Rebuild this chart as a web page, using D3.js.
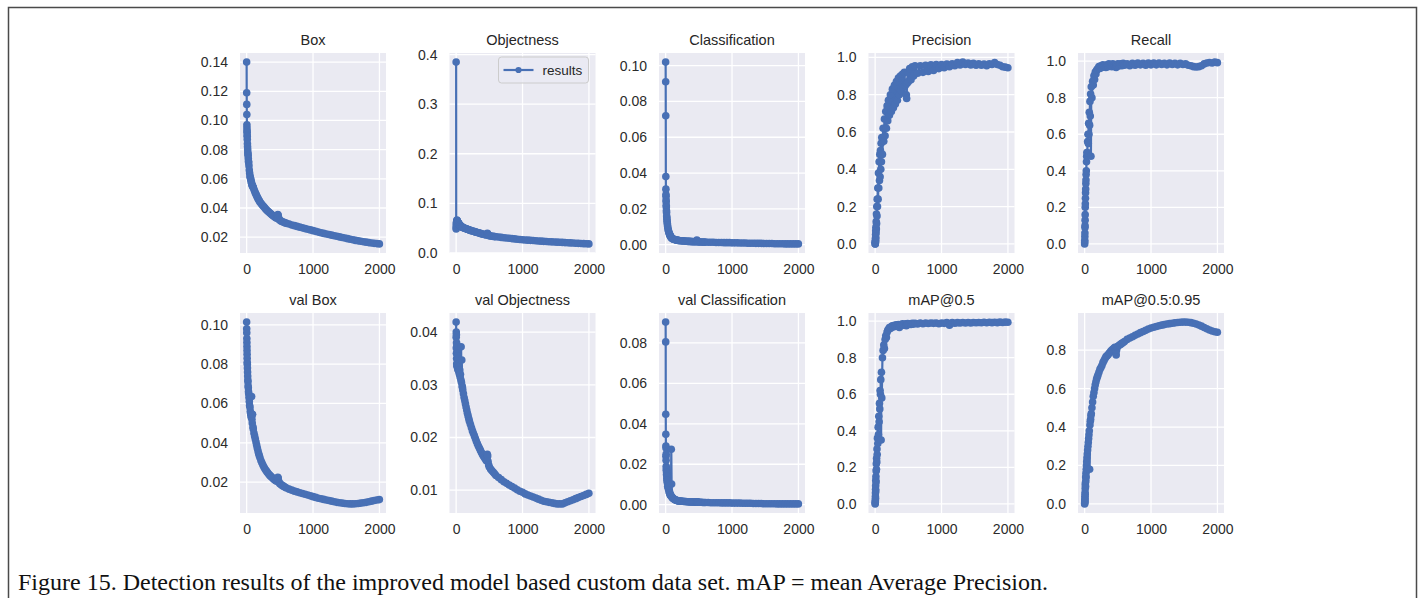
<!DOCTYPE html>
<html>
<head>
<meta charset="utf-8">
<script src="https://cdn.jsdelivr.net/npm/d3@7"></script>
<style>
  html, body { margin: 0; padding: 0; background: #ffffff; }
  svg { display: block; }
  .tick text { font-family: "Liberation Sans", Arial, Helvetica, sans-serif; font-size: 14px; fill: #2b2b2b; }
  .title { font-family: "Liberation Sans", Arial, Helvetica, sans-serif; font-size: 14.5px; fill: #262626; }
  .legend-text { font-family: "Liberation Sans", Arial, Helvetica, sans-serif; font-size: 13.5px; fill: #262626; }
  .caption { font-family: "Liberation Serif", "Times New Roman", Times, serif; font-size: 24px; fill: #111111; }
</style>
</head>
<body>
<svg id="fig" width="1423" height="598"></svg>
<script>
// Training epochs at which the logged results are plotted
const epochs = [
  0,1,2,3,4,5,6,7,8,9,10,
  12,14,16,18,20,22,
  25,28,31,35,
  40,45,50,55,60,65,70,75,80,85,90,95,100,
  110,120,130,140,150,160,170,180,190,200,
  215,230,245,260,275,290,305,320,335,350,365,380,395,410,425,440,455,
  465,470,475,480,490,500,
  520,540,560,580,600,
  640,680,720,760,800,840,880,920,960,1000,1040,1080,1120,1160,1200,1240,1280,1320,1360,1400,
  1440,1480,1520,1560,1600,1640,1680,1720,1760,1800,1840,1880,1920,1960,
  1999
];

// Training losses
const boxLoss = [
  0.140,0.119,0.111,0.104,0.097,0.095,0.093,0.092,0.090,0.089,0.087,
  0.084,0.082,0.080,0.078,0.077,0.076,
  0.074,0.072,0.071,0.069,
  0.066,0.064,0.062,0.061,0.060,0.059,0.058,0.057,0.056,0.0555,0.055,0.0545,0.054,
  0.0528,0.0516,0.0505,0.0495,0.0485,0.0475,0.0466,0.0458,0.045,0.0442,
  0.0432,0.0424,0.0416,0.0408,0.040,0.0392,0.0385,0.0378,0.0372,0.0366,0.036,0.0354,0.0349,0.0344,0.0339,0.0334,0.033,
  0.0342,0.0356,0.0350,0.0336,0.0322,0.0316,
  0.031,0.0306,0.0302,0.0298,0.0295,
  0.029,0.0284,0.0279,0.0274,0.0269,0.0264,0.0259,0.0254,0.025,0.0245,0.024,0.0235,0.023,0.0226,0.0222,0.0218,0.0214,0.021,0.0206,0.0202,
  0.0198,0.0194,0.019,0.0186,0.0182,0.0178,0.0175,0.0172,0.0169,0.0166,0.0163,0.016,0.0158,0.0156,
  0.0154
];
const objLoss = [
  0.385,0.048,0.050,0.053,0.056,0.058,0.060,0.061,0.062,0.063,0.064,
  0.066,0.065,0.064,0.064,0.063,0.062,
  0.062,0.061,0.060,0.060,
  0.059,0.058,0.057,0.056,0.0555,0.055,0.054,0.0535,0.053,0.0525,0.052,0.0515,0.051,
  0.0505,0.050,0.0495,0.049,0.0485,0.048,0.0475,0.047,0.0465,0.046,
  0.0453,0.0446,0.044,0.0434,0.0428,0.0422,0.0416,0.041,0.0404,0.0398,0.0392,0.0386,0.038,0.0375,0.037,0.0365,0.036,
  0.0372,0.0395,0.0385,0.0365,0.0352,0.0345,
  0.034,0.0336,0.0332,0.0328,0.0325,
  0.0318,0.0311,0.0305,0.0299,0.0293,0.0287,0.0281,0.0275,0.027,0.0265,0.026,0.0256,0.0252,0.0248,0.0244,0.024,0.0236,0.0232,0.0228,0.0225,
  0.0222,0.0219,0.0216,0.0213,0.021,0.0206,0.0203,0.020,0.0197,0.0194,0.0191,0.0188,0.0185,0.0182,
  0.018
];
const clsLoss = [
  0.102,0.091,0.072,0.038,0.031,0.028,0.027,0.025,0.024,0.022,0.021,
  0.019,0.018,0.016,0.015,0.014,0.013,
  0.012,0.011,0.010,0.009,
  0.0082,0.0075,0.0068,0.0062,0.0057,0.0053,0.0049,0.0046,0.0043,0.004,0.0038,0.0036,0.0034,
  0.0032,0.003,0.0029,0.0028,0.0027,0.0026,0.0025,0.0024,0.0024,0.0023,
  0.0022,0.0022,0.0021,0.0021,0.002,0.002,0.0019,0.0019,0.0018,0.0018,0.0018,0.0017,0.0017,0.0017,0.0016,0.0016,0.0016,
  0.0018,0.0026,0.0022,0.0018,0.0016,0.0015,
  0.0015,0.0015,0.0014,0.0014,0.0014,
  0.0013,0.0013,0.0013,0.0012,0.0012,0.0012,0.0011,0.0011,0.0011,0.001,0.001,0.001,0.0009,0.0009,0.0009,0.0008,0.0008,0.0008,0.0007,0.0007,
  0.0007,0.0006,0.0006,0.0006,0.0006,0.0005,0.0005,0.0005,0.0005,0.0004,0.0004,0.0004,0.0004,0.0004,
  0.0004
];

// Detection metrics
const precision = [
  0.0,0.01,0.0,0.015,0.005,0.03,0.01,0.05,0.02,0.07,0.035,
  0.09,0.06,0.12,0.08,0.16,0.11,
  0.20,0.15,0.24,0.20,
  0.30,0.24,0.38,0.30,0.44,0.34,0.48,0.36,0.50,0.40,0.54,0.44,0.57,
  0.48,0.62,0.55,0.67,0.58,0.71,0.62,0.74,0.66,0.77,
  0.69,0.80,0.71,0.83,0.73,0.85,0.75,0.87,0.77,0.89,0.80,0.90,0.82,0.91,0.84,0.92,0.85,
  0.86,0.80,0.78,0.86,0.92,0.87,
  0.94,0.88,0.95,0.90,0.955,
  0.915,0.955,0.92,0.958,0.925,0.96,0.93,0.962,0.94,0.962,0.945,0.965,0.95,0.966,0.955,0.972,0.96,0.975,0.962,0.97,
  0.96,0.968,0.958,0.966,0.958,0.964,0.956,0.966,0.962,0.972,0.962,0.958,0.95,0.948,
  0.945
];
const recall = [
  0.0,0.01,0.02,0.04,0.06,0.09,0.10,0.13,0.16,0.20,0.22,
  0.25,0.28,0.30,0.33,0.35,0.38,
  0.40,0.45,0.48,0.50,
  0.50,0.56,0.60,0.55,0.66,0.60,0.72,0.65,0.78,0.70,0.82,0.48,0.86,
  0.80,0.89,0.87,0.92,0.90,0.94,0.93,0.95,0.955,0.96,
  0.97,0.96,0.975,0.965,0.98,0.97,0.975,0.965,0.98,0.97,0.985,0.972,0.98,0.97,0.985,0.975,0.98,
  0.97,0.975,0.965,0.98,0.972,0.985,
  0.975,0.985,0.975,0.988,0.978,
  0.985,0.975,0.988,0.978,0.99,0.98,0.988,0.978,0.99,0.98,0.99,0.98,0.99,0.982,0.988,0.98,0.99,0.982,0.988,0.98,
  0.988,0.982,0.985,0.978,0.975,0.97,0.968,0.97,0.975,0.985,0.99,0.993,0.99,0.995,
  0.992
];

// Validation losses
const valBoxLoss = [
  0.1014,0.098,0.096,0.093,0.091,0.089,0.087,0.085,0.083,0.081,0.080,
  0.078,0.076,0.074,0.072,0.071,0.069,
  0.068,0.066,0.065,0.063,
  0.061,0.059,0.058,0.056,0.055,0.054,0.053,0.0635,0.052,0.050,0.0545,0.048,0.047,
  0.045,0.0435,0.042,0.0405,0.039,0.0375,0.036,0.0347,0.0335,0.0325,
  0.031,0.0298,0.0287,0.0277,0.0268,0.026,0.0253,0.0246,0.024,0.0234,0.0229,0.0224,0.0219,0.0215,0.0211,0.0207,0.0204,
  0.0215,0.0225,0.022,0.0208,0.0198,0.0192,
  0.0187,0.0182,0.0178,0.0174,0.017,
  0.0164,0.0159,0.0154,0.015,0.0146,0.0142,0.0138,0.0134,0.013,0.0126,0.0122,0.0118,0.0115,0.0112,0.0109,0.0106,0.0103,0.010,0.0097,0.0095,
  0.0093,0.0091,0.009,0.0089,0.0089,0.009,0.0091,0.0093,0.0095,0.0097,0.010,0.0103,0.0106,0.0109,
  0.0111
];
const valObjLoss = [
  0.0419,0.039,0.040,0.037,0.0395,0.036,0.038,0.035,0.037,0.034,0.036,
  0.0335,0.0375,0.034,0.036,0.0335,0.0355,
  0.033,0.035,0.0328,0.034,
  0.0325,0.0335,0.032,0.0328,0.0315,0.032,0.031,0.0372,0.0305,0.0347,0.0298,0.0295,0.029,
  0.0283,0.0276,0.027,0.0264,0.0258,0.0252,0.0246,0.0241,0.0236,0.0231,
  0.0225,0.0219,0.0213,0.0208,0.0203,0.0198,0.0193,0.0188,0.0184,0.018,0.0176,0.0172,0.0168,0.0165,0.0162,0.0159,0.0156,
  0.0162,0.0168,0.0165,0.0155,0.0148,0.0144,
  0.014,0.0137,0.0134,0.0131,0.0128,
  0.0124,0.012,0.0116,0.0113,0.011,0.0107,0.0104,0.0101,0.0098,0.0096,0.0093,0.0091,0.0089,0.0087,0.0085,0.0083,0.0081,0.0079,0.0078,0.0077,
  0.0076,0.0075,0.0074,0.0074,0.0074,0.0076,0.0078,0.008,0.0082,0.0084,0.0086,0.0088,0.009,0.0092,
  0.0094
];
const valClsLoss = [
  0.0903,0.0805,0.0447,0.0348,0.029,0.024,0.028,0.022,0.025,0.019,0.017,
  0.018,0.015,0.016,0.013,0.014,0.012,
  0.011,0.012,0.009,0.010,
  0.008,0.009,0.0065,0.007,0.0055,0.0058,0.0048,0.0046,0.0045,0.0274,0.0102,0.0038,0.0035,
  0.0032,0.0029,0.0027,0.0025,0.0023,0.0022,0.0021,0.002,0.0019,0.0019,
  0.0018,0.0018,0.0017,0.0017,0.0016,0.0016,0.0016,0.0015,0.0015,0.0015,0.0014,0.0014,0.0014,0.0013,0.0013,0.0013,0.0013,
  0.0014,0.0015,0.0014,0.0013,0.0012,0.0012,
  0.0012,0.0012,0.0011,0.0011,0.0011,
  0.0011,0.001,0.001,0.001,0.001,0.0009,0.0009,0.0009,0.0009,0.0008,0.0008,0.0008,0.0008,0.0007,0.0007,0.0007,0.0007,0.0006,0.0006,0.0006,
  0.0006,0.0005,0.0005,0.0005,0.0005,0.0005,0.0004,0.0004,0.0004,0.0004,0.0004,0.0004,0.0004,0.0004,
  0.0004
];
const mAP50 = [
  0.0,0.005,0.02,0.01,0.04,0.06,0.03,0.08,0.10,0.07,0.13,
  0.15,0.12,0.18,0.22,0.19,0.25,
  0.23,0.30,0.27,0.36,
  0.33,0.42,0.38,0.48,0.45,0.55,0.52,0.62,0.60,0.68,0.35,0.72,0.58,
  0.80,0.84,0.87,0.85,0.90,0.92,0.91,0.94,0.95,0.955,
  0.965,0.96,0.97,0.975,0.968,0.978,0.972,0.98,0.975,0.982,0.965,0.98,0.978,0.985,0.978,0.984,0.98,
  0.982,0.975,0.985,0.98,0.987,0.982,
  0.986,0.982,0.988,0.984,0.988,
  0.985,0.99,0.986,0.99,0.987,0.99,0.988,0.99,0.986,0.99,0.988,0.992,0.978,0.992,0.989,0.992,0.99,0.993,0.99,0.993,
  0.99,0.993,0.991,0.993,0.991,0.994,0.991,0.994,0.992,0.994,0.992,0.995,0.993,0.995,
  0.994
];
const mAP5095 = [
  0.0,0.005,0.01,0.02,0.015,0.04,0.03,0.06,0.05,0.08,0.10,
  0.11,0.09,0.14,0.12,0.16,0.14,
  0.18,0.20,0.22,0.24,
  0.26,0.28,0.30,0.32,0.34,0.36,0.38,0.18,0.41,0.43,0.44,0.46,0.47,
  0.50,0.53,0.56,0.58,0.60,0.62,0.635,0.65,0.66,0.67,
  0.685,0.70,0.71,0.72,0.735,0.745,0.755,0.765,0.77,0.775,0.782,0.788,0.795,0.80,0.805,0.81,0.815,
  0.80,0.785,0.775,0.80,0.815,0.82,
  0.825,0.83,0.835,0.84,0.845,
  0.856,0.863,0.87,0.877,0.884,0.891,0.897,0.903,0.91,0.915,0.919,0.923,0.927,0.93,0.933,0.936,0.938,0.94,0.942,0.944,
  0.945,0.946,0.946,0.945,0.943,0.94,0.936,0.931,0.925,0.918,0.911,0.905,0.90,0.896,
  0.893
];

// Axis tick values
const xTicks = [0, 1000, 2000];
const boxTicks = [0.02, 0.04, 0.06, 0.08, 0.10, 0.12, 0.14];
const objTicks = [0.0, 0.1, 0.2, 0.3, 0.4];
const clsTicks = [0.00, 0.02, 0.04, 0.06, 0.08, 0.10];
const unitTicks = [0.0, 0.2, 0.4, 0.6, 0.8, 1.0];
const valBoxTicks = [0.02, 0.04, 0.06, 0.08, 0.10];
const valObjTicks = [0.01, 0.02, 0.03, 0.04];
const valClsTicks = [0.00, 0.02, 0.04, 0.06, 0.08];
const map95Ticks = [0.0, 0.2, 0.4, 0.6, 0.8];

const titles = ["Box", "Objectness", "Classification", "Precision", "Recall",
                "val Box", "val Objectness", "val Classification", "mAP@0.5", "mAP@0.5:0.95"];
const captionText = "Figure 15. Detection results of the improved model based custom data set. mAP = mean Average Precision.";
const legendLabel = "results";

const panels = [
  { values: boxLoss,    ticks: boxTicks,    fmt: ".2f" },
  { values: objLoss,    ticks: objTicks,    fmt: ".1f", legend: true },
  { values: clsLoss,    ticks: clsTicks,    fmt: ".2f" },
  { values: precision,  ticks: unitTicks,   fmt: ".1f" },
  { values: recall,     ticks: unitTicks,   fmt: ".1f" },
  { values: valBoxLoss, ticks: valBoxTicks, fmt: ".2f" },
  { values: valObjLoss, ticks: valObjTicks, fmt: ".2f" },
  { values: valClsLoss, ticks: valClsTicks, fmt: ".2f" },
  { values: mAP50,      ticks: unitTicks,   fmt: ".1f" },
  { values: mAP5095,    ticks: map95Ticks,  fmt: ".1f" }
].map((p, i) => Object.assign(p, { title: titles[i] }));

// Figure geometry
const colLeft = 240, colStep = 209.5, plotW = 146, plotH = 200;
const rowTop = [53, 313];
const blue = "#4870b5";
const bg = "#eaeaf2";
const markerR = 3.8;

const svg = d3.select("#fig");

// Page frame
svg.append("path")
  .attr("d", "M8.5,598 V7.5 H1416.5 V598")
  .attr("fill", "none").attr("stroke", "#4a4a4a").attr("stroke-width", 1.5);

// matplotlib-style 5% margins around the data extent
function padded(ext) {
  const r = ext[1] - ext[0];
  return [ext[0] - 0.05 * r, ext[1] + 0.05 * r];
}

const x = d3.scaleLinear().domain(padded(d3.extent(epochs))).range([0, plotW]);

panels.forEach((p, i) => {
  const col = i % 5, row = Math.floor(i / 5);
  const left = colLeft + col * colStep, top = rowTop[row];
  const y = d3.scaleLinear().domain(padded(d3.extent(p.values))).range([plotH, 0]);
  const g = svg.append("g").attr("transform", `translate(${left},${top})`);

  g.append("rect").attr("width", plotW).attr("height", plotH).attr("fill", bg);

  // white grid
  g.selectAll(".gy").data(p.ticks).join("line")
    .attr("x1", 0).attr("x2", plotW)
    .attr("y1", d => y(d)).attr("y2", d => y(d))
    .attr("stroke", "#ffffff").attr("stroke-width", 1.3);
  g.selectAll(".gx").data(xTicks).join("line")
    .attr("y1", 0).attr("y2", plotH)
    .attr("x1", d => x(d)).attr("x2", d => x(d))
    .attr("stroke", "#ffffff").attr("stroke-width", 1.3);

  // axes labels
  const ya = g.append("g").call(d3.axisLeft(y).tickValues(p.ticks).tickFormat(d3.format(p.fmt)).tickSize(0).tickPadding(12));
  ya.select(".domain").remove();
  ya.selectAll("text").attr("font-family", null).attr("font-size", null);
  const xa = g.append("g").attr("transform", `translate(0,${plotH})`)
    .call(d3.axisBottom(x).tickValues(xTicks).tickFormat(d3.format("d")).tickSize(0).tickPadding(11));
  xa.select(".domain").remove();
  xa.selectAll("text").attr("font-family", null).attr("font-size", null);

  // title
  g.append("text").attr("class", "title")
    .attr("x", plotW / 2).attr("y", -8).attr("text-anchor", "middle").text(p.title);

  // series line with point markers
  const pts = epochs.map((e, k) => [e, p.values[k]]);
  const clipId = "clip" + i;
  g.append("clipPath").attr("id", clipId).append("rect").attr("width", plotW).attr("height", plotH);
  const s = g.append("g").attr("clip-path", `url(#${clipId})`);
  s.append("path")
    .attr("d", d3.line().x(d => x(d[0])).y(d => y(d[1]))(pts))
    .attr("fill", "none").attr("stroke", blue).attr("stroke-width", 2.2).attr("stroke-linejoin", "round");
  s.selectAll("circle").data(pts).join("circle")
    .attr("cx", d => x(d[0])).attr("cy", d => y(d[1])).attr("r", markerR).attr("fill", blue);

  if (p.legend) {
    const lg = g.append("g").attr("transform", `translate(${plotW - 97},4)`);
    lg.append("rect").attr("width", 90).attr("height", 26).attr("rx", 3)
      .attr("fill", bg).attr("fill-opacity", 0.8)
      .attr("stroke", "#cccccc").attr("stroke-width", 1);
    lg.append("line").attr("x1", 5).attr("x2", 35).attr("y1", 13).attr("y2", 13)
      .attr("stroke", blue).attr("stroke-width", 2.2);
    lg.append("circle").attr("cx", 20).attr("cy", 13).attr("r", 3.1).attr("fill", blue);
    lg.append("text").attr("class", "legend-text").attr("x", 44).attr("y", 17.5).text(legendLabel);
  }
});

// Caption
svg.append("text").attr("class", "caption").attr("x", 18).attr("y", 590).text(captionText);
</script>
</body>
</html>
